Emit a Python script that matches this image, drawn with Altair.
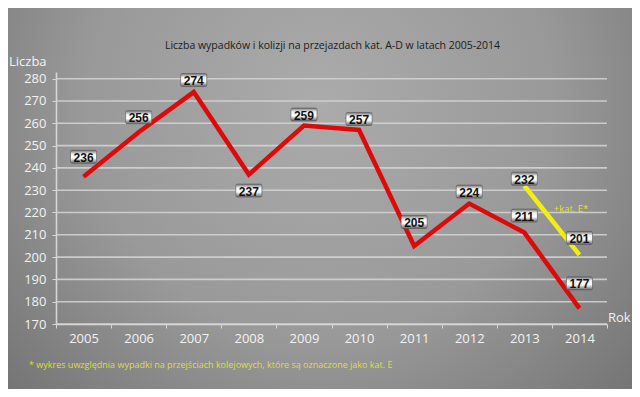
import altair as alt
import pandas as pd

years = ["2005", "2006", "2007", "2008", "2009", "2010", "2011", "2012", "2013", "2014"]
ad_values = [236, 256, 274, 237, 259, 257, 205, 224, 211, 177]
e_years = ["2013", "2014"]
e_values = [232, 201]
y_ticks = [170, 180, 190, 200, 210, 220, 230, 240, 250, 260, 270, 280]

# label offsets in pixels (negative = above the point)
ad_label_dy = [-20, -15, -12, 16, -11, -11, -24, -12, -17, -25]
e_label_dy = [-7, -17]

W, H = 551, 252
Y_DOMAIN = [170, 283]
PX = H / (Y_DOMAIN[1] - Y_DOMAIN[0])

ad = pd.DataFrame({"year": years, "value": ad_values, "dy": ad_label_dy})
ad["labelY"] = ad["value"] - ad["dy"] / PX
e = pd.DataFrame({"year": e_years, "value": e_values, "dy": e_label_dy})
e["labelY"] = e["value"] - e["dy"] / PX
labels = pd.concat([ad, e], ignore_index=True)
grid = pd.DataFrame({"v": y_ticks})

FONT = "Open Sans"
xscale = alt.Scale(type="band", domain=years, paddingInner=0, paddingOuter=0)
yscale = alt.Scale(domain=Y_DOMAIN, nice=False, zero=False)

x_axis = alt.Axis(labelAngle=0, labelColor="#f2f2f2", labelFont=FONT,
                  labelFontSize=13, domainColor="#d6d6d6", domainWidth=1.6,
                  tickColor="#d6d6d6", tickBand="extent", tickSize=4,
                  labelPadding=4, zindex=1, grid=False, title=None)
y_axis = alt.Axis(values=y_ticks, grid=False, labelColor="#f2f2f2",
                  labelFont=FONT, labelFontSize=13, domainColor="#d6d6d6",
                  domainWidth=1.6, tickColor="#d6d6d6", tickSize=4,
                  labelPadding=6, zindex=1, title=None)


def X():
    return alt.X("year:O", scale=xscale, sort=years, axis=x_axis, title=None)


def Y(field):
    return alt.Y(field, scale=yscale, axis=y_axis, title=None)


bg = alt.Chart(pd.DataFrame({"a": [0]})).mark_rect(
    fill=alt.RadialGradient(
        gradient="radial",
        x1=0.5, y1=0.35, r1=0.0,
        x2=0.5, y2=0.35, r2=0.75,
        stops=[
            alt.GradientStop(color="#ababab", offset=0),
            alt.GradientStop(color="#999999", offset=0.5),
            alt.GradientStop(color="#6c6c6c", offset=1),
        ],
    )
).encode(
    x=alt.value(-48), x2=alt.value(W + 25),
    y=alt.value(-64), y2=alt.value(H + 65),
)

gridrules = alt.Chart(grid).mark_rule(color="#d6d6d6", strokeWidth=1.6, opacity=0.85).encode(
    y=Y("v:Q")
)

red = alt.Chart(ad).mark_line(color="#dd0a0a", strokeWidth=4.5).encode(
    x=X(), y=Y("value:Q"),
)

yellow = alt.Chart(e).mark_line(color="#f2ef10", strokeWidth=4.5).encode(
    x=X(), y=Y("value:Q"),
)

box_path = ("M-0.88,-0.5 L0.88,-0.5 Q1,-0.5 1,-0.36 L1,0.36 Q1,0.5 0.88,0.5 "
            "L-0.88,0.5 Q-1,0.5 -1,0.36 L-1,-0.36 Q-1,-0.5 -0.88,-0.5 Z")
boxes = alt.Chart(labels).mark_point(
    shape=box_path, size=680, filled=True, opacity=1,
    fill=alt.LinearGradient(
        gradient="linear", x1=0, y1=0, x2=0, y2=1,
        stops=[
            alt.GradientStop(color="#6f6f6f", offset=0),
            alt.GradientStop(color="#f4f4f4", offset=0.3),
            alt.GradientStop(color="#ffffff", offset=0.6),
            alt.GradientStop(color="#5e5e5e", offset=1),
        ],
    ),
    stroke="#555555", strokeWidth=0.6,
).encode(
    x=X(), y=Y("labelY:Q"),
)

texts = alt.Chart(labels).mark_text(
    font="Liberation Sans", fontSize=12, fontWeight="bold", color="#111111", dy=1
).encode(
    x=X(), y=Y("labelY:Q"),
    text=alt.Text("value:Q"),
)

one = pd.DataFrame({"a": [0]})
title_t = alt.Chart(one).mark_text(
    text="Liczba wypadków i kolizji na przejazdach kat. A-D w latach 2005-2014",
    font=FONT, fontSize=10.5, color="#1c1c1c", align="center", baseline="middle"
).encode(x=alt.value(W / 2 + 1), y=alt.value(-26))

liczba_t = alt.Chart(one).mark_text(
    text="Liczba", font=FONT, fontSize=13, color="#f2f2f2", align="left", baseline="middle"
).encode(x=alt.value(-47), y=alt.value(-10))

rok_t = alt.Chart(one).mark_text(
    text="Rok", font=FONT, fontSize=13, color="#f2f2f2", align="left", baseline="middle"
).encode(x=alt.value(552), y=alt.value(246))

kat_t = alt.Chart(one).mark_text(
    text="+kat. E*", font=FONT, fontSize=9.5, color="#e6e020", align="center", baseline="middle"
).encode(x=alt.value(515), y=alt.value(137))

foot_t = alt.Chart(one).mark_text(
    text="* wykres uwzględnia wypadki na przejściach kolejowych, które są oznaczone jako kat. E",
    font=FONT, fontSize=9, color="#dede3c", align="left", baseline="middle"
).encode(x=alt.value(-27), y=alt.value(293))

chart = alt.layer(
    bg, gridrules, red, yellow, boxes, texts, title_t, liczba_t, rok_t, kat_t, foot_t
).properties(
    width=W, height=H,
    autosize=alt.AutoSizeParams(type="none"),
    padding={"left": 48, "top": 64, "right": 25, "bottom": 65},
    background="#8a8a8a",
).configure_view(stroke=None)

chart.save("out.html", embed_options={"renderer": "svg", "actions": False})
